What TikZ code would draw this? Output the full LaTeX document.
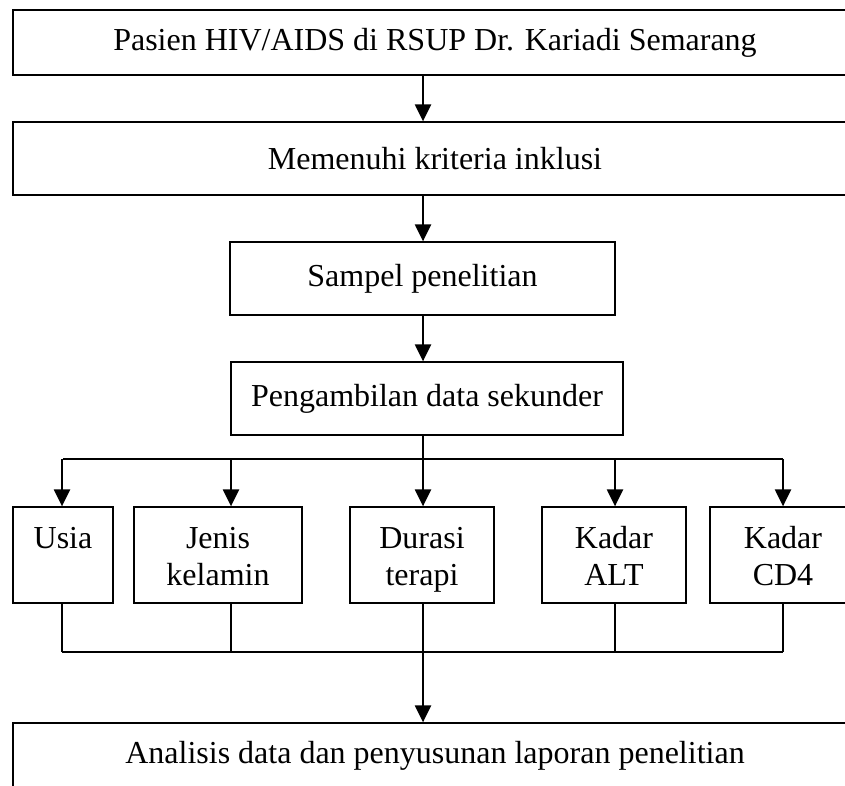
\documentclass[tikz,border=0pt]{standalone}
\usepackage{fontspec}
\setmainfont{Liberation Serif}
\usetikzlibrary{arrows.meta,positioning}
\definecolor{flowInk}{HTML}{000000}
\newcommand{\itemtop}{\rule{0pt}{30pt}}
\newcommand{\itembot}{\rule[-7pt]{0pt}{7pt}}
\tikzset{
  every picture/.style={font=\fontsize{32}{37}\selectfont, text=flowInk},
  flow box/.style={draw=flowInk, line width=1.3pt, fill=white,
    align=center, inner sep=0pt},
  flow wide/.style={flow box, minimum width=844pt},
  flow item/.style={flow box, minimum height=96pt},
  flow arrow/.style={-{Triangle[length=17pt,width=16pt]},
    draw=flowInk, line width=2.3pt},
  flow line/.style={draw=flowInk, line width=1.9pt}
}

\begin{document}
\begin{tikzpicture}[x=1pt,y=-1pt]
  \useasboundingbox (0,0) rectangle (845,785);
  \clip (0,0) rectangle (845,785);
  \node[flow wide, minimum height=65pt] (pasien) at (435,42.5)
    {Pasien HIV/AIDS di RSUP Dr. Kariadi Semarang};
  \node[flow wide, minimum height=73pt] (inklusi) at (435,158.5)
    {Memenuhi kriteria inklusi};
  \node[flow box, minimum width=385pt, minimum height=73pt] (sampel)
    at (422.5,278.5) {Sampel penelitian};
  \node[flow box, minimum width=392pt, minimum height=73pt] (ambil)
    at (427,398.5) {Pengambilan data sekunder};
  \coordinate (fork) at (423,459);
  \coordinate (join) at (423,652);
  \node[flow item, minimum width=100pt] (usia) at (63,555)
    {Usia\itemtop\\\itembot};
  \node[flow item, minimum width=168pt] (jenis) at (218,555)
    {Jenis\itemtop\\kelamin\itembot};
  \node[flow item, minimum width=144pt] (durasi) at (422,555)
    {Durasi\itemtop\\terapi\itembot};
  \node[flow item, minimum width=144pt] (alt) at (614,555)
    {Kadar\itemtop\\ALT\itembot};
  \node[flow item, minimum width=146pt] (cd4) at (783,555)
    {Kadar\itemtop\\CD4\itembot};
  \node[flow wide, minimum height=65pt] (analisis) at (435,755.5)
    {Analisis data dan penyusunan laporan penelitian};

  \draw[flow arrow] (pasien.south -| fork) -- (inklusi.north -| fork);
  \draw[flow arrow] (inklusi.south -| fork) -- (sampel.north -| fork);
  \draw[flow arrow] (sampel.south -| fork) -- (ambil.north -| fork);
  \draw[flow line] (ambil.south -| fork) -- (fork);
  \draw[flow line] (usia.north |- fork) -- (cd4.north |- fork);
  \foreach \n/\dx in {usia/-1,jenis/13,durasi/1,alt/1,cd4/0}{
    \draw[flow arrow] ([xshift=\dx pt]\n.north |- fork)
      -- ([xshift=\dx pt]\n.north);
    \draw[flow line] ([xshift=\dx pt]\n.south)
      -- ([xshift=\dx pt]\n.south |- join);
  }
  \draw[flow line] ([xshift=-1pt]usia.south |- join) -- (cd4.south |- join);
  \draw[flow arrow] (join) -- (analisis.north -| join);
\end{tikzpicture}
\end{document}
